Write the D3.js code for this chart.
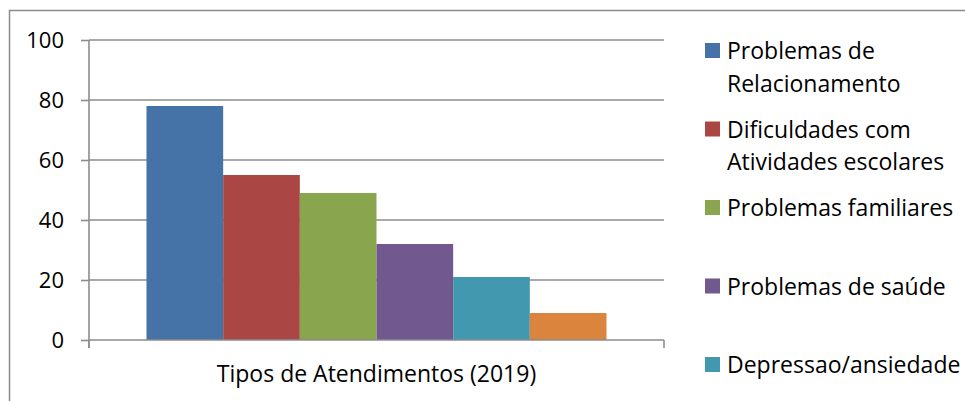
<!DOCTYPE html>
<html>
<head>
<meta charset="utf-8">
<script src="https://cdn.jsdelivr.net/npm/d3@7/dist/d3.min.js"></script>
<style>
  html, body { margin: 0; padding: 0; background: #fff; }
  svg { display: block; }
  text { font-family: "Open Sans", "Liberation Sans", Arial, sans-serif; fill: #000; }
</style>
</head>
<body>
<svg id="chart" width="965" height="401"></svg>
<script>
// Single category on the x axis, one bar per type of service
const category = "Tipos de Atendimentos (2019)";
const seriesNames = [
  "Problemas de Relacionamento",
  "Dificuldades com Atividades escolares",
  "Problemas familiares",
  "Problemas de saúde",
  "Depressao/ansiedade",
  "Outros"
];
// Legend labels, wrapped as in the legend box
const legendLines = [
  ["Problemas de", "Relacionamento"],
  ["Dificuldades com", "Atividades escolares"],
  ["Problemas familiares"],
  ["Problemas de saúde"],
  ["Depressao/ansiedade"],
  ["Outros"]
];
const values = [78, 55, 49, 32, 21, 9];
const colors = ["#4572A7", "#AA4643", "#89A54E", "#71588F", "#4198AF", "#DB843D"];
const yTicks = [0, 20, 40, 60, 80, 100];

const svg = d3.select("#chart");
const W = 965, H = 401;
const plot = { left: 89, right: 664, top: 40, bottom: 340 };
const grey = "#8c8c8c";
const tickFont = 22, labelFont = 23;

// Outer chart border (runs past the right and bottom edges)
svg.append("rect")
  .attr("x", 9.5).attr("y", 10.5)
  .attr("width", W).attr("height", H)
  .attr("fill", "none").attr("stroke", grey).attr("stroke-width", 1.5);

const y = d3.scaleLinear().domain([0, 100]).range([plot.bottom, plot.top]);

// Gap width of 1.5 bar widths split on both sides of the group of six bars
const x0 = d3.scaleBand().domain([category])
  .range([plot.left, plot.right])
  .paddingInner(0).paddingOuter(0.75 / seriesNames.length);
const x1 = d3.scaleBand().domain(seriesNames)
  .range([0, x0.bandwidth()]).padding(0);

// Horizontal gridlines
svg.append("g")
  .selectAll("line")
  .data(yTicks.filter(d => d > 0))
  .join("line")
  .attr("x1", plot.left).attr("x2", plot.right)
  .attr("y1", d => y(d)).attr("y2", d => y(d))
  .attr("stroke", grey).attr("stroke-width", 1.6);

// Bars
svg.append("g")
  .selectAll("rect")
  .data(seriesNames.map((s, i) => ({ name: s, value: values[i], color: colors[i] })))
  .join("rect")
  .attr("x", d => x0(category) + x1(d.name))
  .attr("width", x1.bandwidth())
  .attr("y", d => y(d.value))
  .attr("height", d => y(0) - y(d.value))
  .attr("fill", d => d.color);

// Y axis
const yAxis = svg.append("g")
  .attr("transform", `translate(${plot.left},0)`)
  .call(d3.axisLeft(y).tickValues(yTicks).tickSize(8).tickPadding(17));
yAxis.select(".domain").remove();
yAxis.selectAll(".tick line").attr("stroke", grey).attr("stroke-width", 1.6);
yAxis.selectAll(".tick text")
  .attr("font-family", "'Open Sans', 'Liberation Sans', Arial, sans-serif")
  .attr("font-size", tickFont).attr("fill", "#000").attr("dy", "0.36em");
svg.append("line")
  .attr("x1", plot.left).attr("x2", plot.left)
  .attr("y1", plot.top).attr("y2", plot.bottom + 8)
  .attr("stroke", grey).attr("stroke-width", 1.6);

// X axis with tick marks at both ends of the category band
const xAxis = svg.append("g")
  .attr("transform", `translate(0,${plot.bottom})`);
xAxis.append("line")
  .attr("x1", plot.left).attr("x2", plot.right)
  .attr("stroke", grey).attr("stroke-width", 1.6);
xAxis.selectAll("line.edge")
  .data([plot.left, plot.right])
  .join("line").attr("class", "edge")
  .attr("x1", d => d).attr("x2", d => d)
  .attr("y1", 0).attr("y2", 8)
  .attr("stroke", grey).attr("stroke-width", 1.6);
xAxis.append("text")
  .attr("x", x0(category) + x0.bandwidth() / 2)
  .attr("y", 42)
  .attr("text-anchor", "middle")
  .attr("font-size", labelFont)
  .text(category);

// Legend: only the entries that fit inside the chart box are shown
const legendTop = 43, legendStep = 78.5, sw = 15;
const legendData = seriesNames
  .map((s, i) => ({ lines: legendLines[i], color: colors[i], i }))
  .filter(d => legendTop + d.i * legendStep + sw < H);
const items = svg.append("g").selectAll("g")
  .data(legendData)
  .join("g")
  .attr("transform", d => `translate(705,${legendTop + d.i * legendStep})`);
items.append("rect")
  .attr("width", sw).attr("height", sw)
  .attr("fill", d => d.color);
items.append("text")
  .attr("font-size", labelFont)
  .selectAll("tspan")
  .data(d => d.lines)
  .join("tspan")
  .attr("x", 22)
  .attr("y", (d, j) => 16 + j * 32.5)
  .text(d => d);
</script>
</body>
</html>
